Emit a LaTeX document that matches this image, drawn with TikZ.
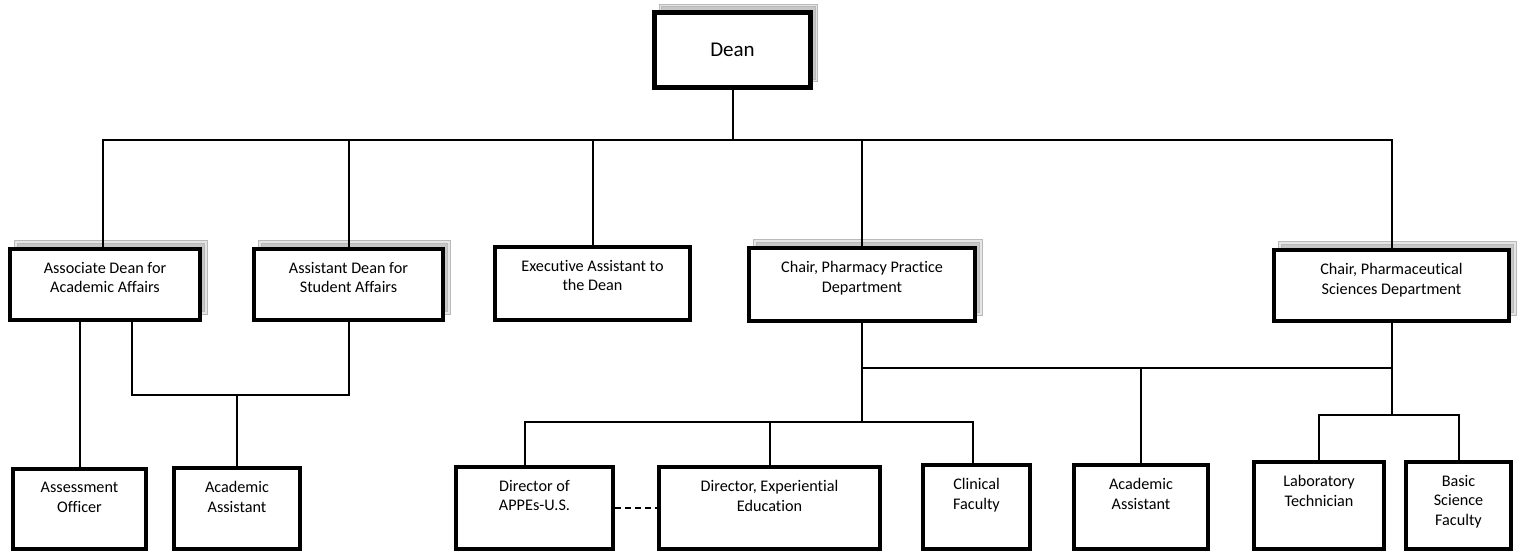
\documentclass[tikz,border=0pt]{standalone}
\usepackage{fontspec}
\setmainfont{Carlito}[Ligatures=NoCommon]
\begin{document}
\begin{tikzpicture}[x=1pt, y=-1pt,
    box/.style={draw, line width=4.5pt, fill=white, inner sep=0pt},
    shadowed/.style={preaction={draw=gray!55, double=gray!20, double distance=1.5pt, line width=1.2pt, fill=gray!45, transform canvas={xshift=6pt, yshift=7pt}}},
    txt/.style={anchor=north, yshift=-15pt, inner sep=0pt, align=center, font=\fontsize{16.2}{19.8}\selectfont},
    link/.style={line width=2pt}]
    \useasboundingbox[fill=white] (0,0) rectangle (1523,554);
    % top
    \node[box, line width=5pt, shadowed, minimum width=156pt, minimum height=75pt, font=\fontsize{21}{24}\selectfont] (dean) at (732.5,50) {Dean};
    % second row
    \node[box, shadowed, minimum width=190pt, minimum height=71pt, label={[txt]north:{Associate Dean for\\Academic Affairs}}] (assoc) at (105,284.5) {};
    \node[box, shadowed, minimum width=189pt, minimum height=71pt, label={[txt]north:{Assistant Dean for\\Student Affairs}}] (asst) at (348.5,284.5) {};
    \node[box, minimum width=195pt, minimum height=73pt, label={[txt]north:{Executive Assistant to\\the Dean}}] (exec) at (592.5,283.5) {};
    \node[box, shadowed, minimum width=226pt, minimum height=73pt, label={[txt]north:{Chair, Pharmacy Practice\\Department}}] (chairpp) at (862,284.5) {};
    \node[box, shadowed, minimum width=235pt, minimum height=71pt, label={[txt]north:{Chair, Pharmaceutical\\Sciences Department}}] (chairps) at (1391.5,285.5) {};
    % bottom row
    \node[box, minimum width=133pt, minimum height=80pt, label={[txt]north:{Assessment\\Officer}}] (assess) at (79.5,509) {};
    \node[box, minimum width=126pt, minimum height=81pt, label={[txt]north:{Academic\\Assistant}}] (acadL) at (237,508.5) {};
    \node[box, minimum width=157pt, minimum height=82pt, label={[txt]north:{Director of\\APPEs-U.S.}}] (dirapp) at (534.5,508) {};
    \node[box, minimum width=221pt, minimum height=82pt, label={[txt]north:{Director, Experiential\\Education}}] (direxp) at (769.5,508) {};
    \node[box, minimum width=107pt, minimum height=84pt, label={[txt]north:{Clinical\\Faculty}}] (clin) at (976.5,507) {};
    \node[box, minimum width=134pt, minimum height=84pt, label={[txt]north:{Academic\\Assistant}}] (acadR) at (1141,507) {};
    \node[box, minimum width=130pt, minimum height=87pt, label={[txt]north:{Laboratory\\Technician}}] (lab) at (1319,505.5) {};
    \node[box, minimum width=105pt, minimum height=87pt, label={[txt]north:{Basic\\Science\\Faculty}}] (basic) at (1458.5,505.5) {};
    % links
    \coordinate (top bus) at (732.5,140);
    \draw[link] (dean.south) -- (top bus);
    \draw[link] (top bus) -| ([xshift=-2pt]assoc.north);
    \draw[link] (top bus) -| (asst.north);
    \draw[link] (top bus) -| (exec.north);
    \draw[link] (top bus) -| (chairpp.north);
    \draw[link] (top bus) -| (chairps.north);
    \coordinate (aa bus) at (237,395);
    \draw[link] (assoc.south -| assess.north) -- (assess.north);
    \draw[link] ([xshift=27pt]assoc.south) |- (aa bus) -| (asst.south);
    \draw[link] (aa bus) -- (acadL.north);
    \coordinate (pp bus) at (862,422);
    \draw[link] (chairpp.south) -- (pp bus);
    \draw[link] ([xshift=-10pt]dirapp.north) |- (pp bus) -| ([xshift=-4pt]clin.north);
    \draw[link] (direxp.north) -- (direxp.north |- pp bus);
    \draw[link, dash pattern=on 6pt off 4pt] (dirapp) -- (direxp);
    \coordinate (acad bus) at (1141,368);
    \draw[link] (chairpp.south |- acad bus) -- (chairps.south |- acad bus);
    \draw[link] (acad bus) -- (acadR.north);
    \coordinate (ps bus) at (1391.5,415);
    \draw[link] (chairps.south) -- (ps bus);
    \draw[link] (lab.north) |- (ps bus) -| (basic.north);
\end{tikzpicture}
\end{document}
